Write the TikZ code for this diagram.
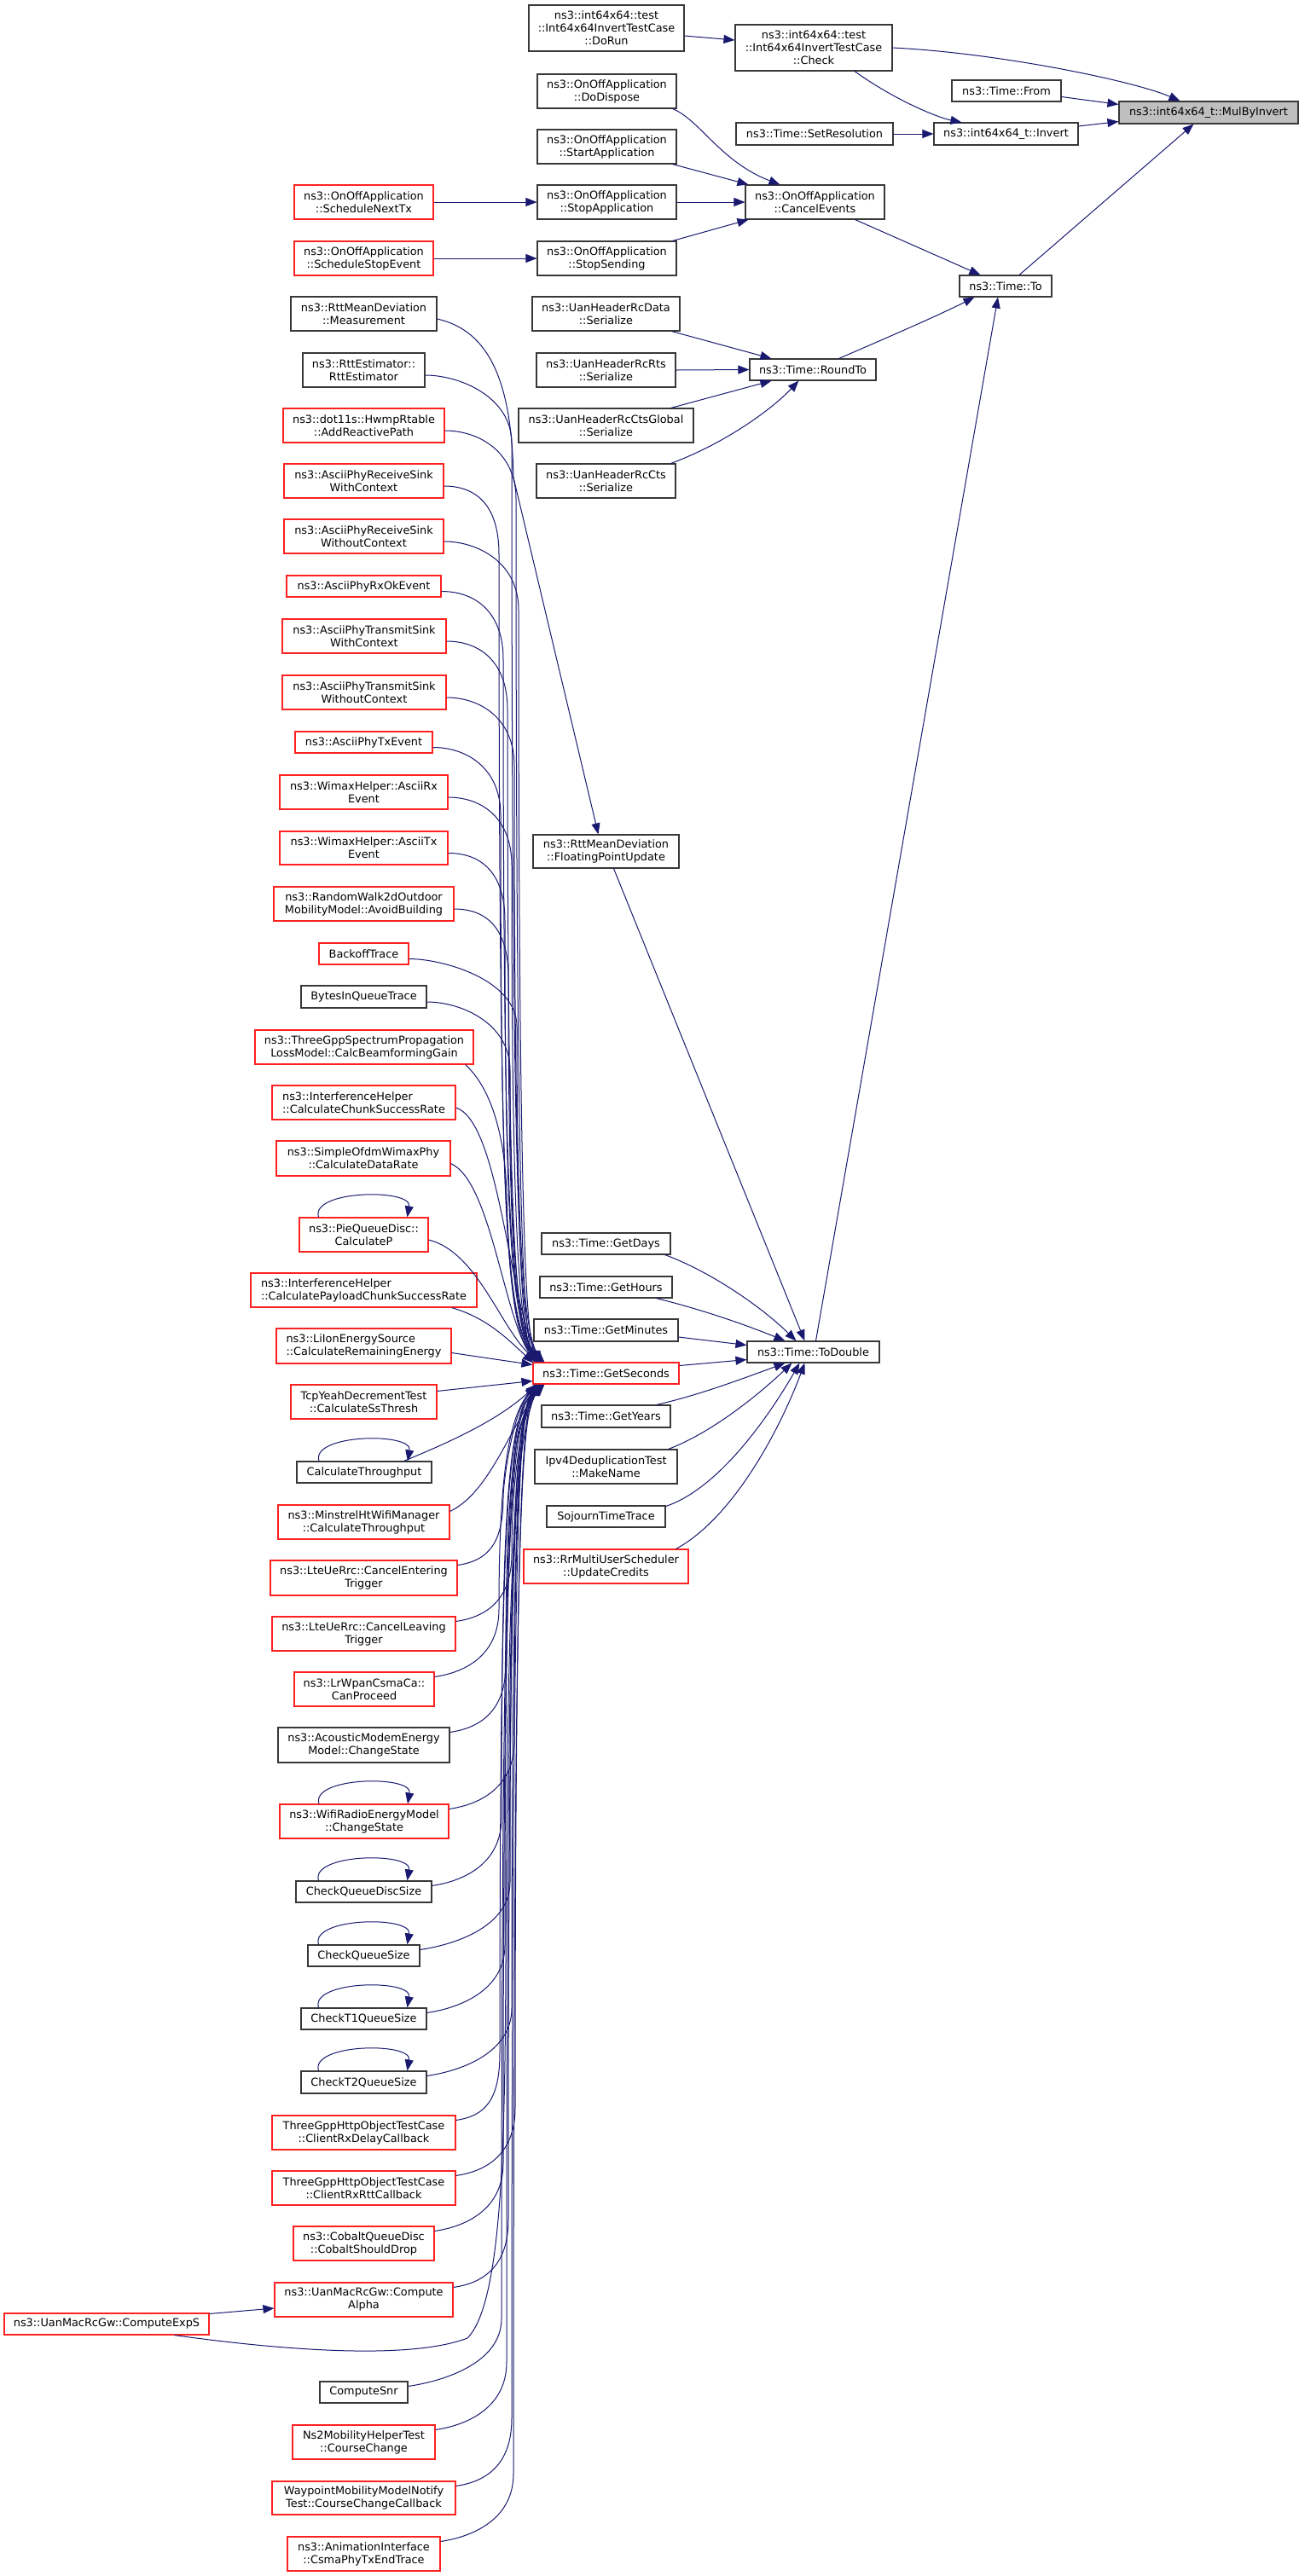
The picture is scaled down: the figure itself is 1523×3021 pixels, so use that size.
\documentclass[tikz,border=0pt]{standalone}
\usepackage{fontspec}
\setmainfont{DejaVu Sans}
\usetikzlibrary{arrows.meta,calc}
\definecolor{ed}{HTML}{191970}
\definecolor{rd}{HTML}{FF2020}
\newcommand\nf{\fontsize{12.9}{15}\selectfont}
\newcommand\mkn[7]{\node[#6, minimum width={((#4)-(#2))*1bp}, minimum height={((#5)-(#3))*1bp}] (#1) at ({((#2)+(#4))/2},{((#3)+(#5))/2}) {#7};}
\newcommand\tedge[4]{\draw[e] ($(#1.east)+(0,6)$) .. controls +(40,0) and (#2,{#3+25}) .. (#2,{#3+80}) .. controls (#2,1470) and ({#2+10},1560) .. ($(gs.north west)+(#4,0)$);}
\newcommand\bedge[4]{\draw[e] ($(#1.north east)+(0,6)$) .. controls +(35,-5) and (#2,{#3-25}) .. (#2,{#3-80}) .. controls (#2,1740) and ({#2+10},1660) .. ($(gs.south west)+(#4,0)$);}
\newcommand\lpp[1]{\draw[e] ($(#1.north)+(-53,0)$) .. controls +(-10,-32) and +(6,-34) .. ($(#1.north)+(51,0)$);}
\begin{document}
\begin{tikzpicture}[x=1bp,y=-1bp,
  box/.style={draw=black!78, line width=1.1bp, fill=white, inner sep=1bp, align=center, font=\nf},
  rbox/.style={box, draw=rd},
  lbox/.style={rbox, align=left},
  gbox/.style={box, fill=black!25},
  e/.style={draw=ed, line width=1bp, -{Triangle[length=13bp,width=10bp]}}]
\fill[white] (0,0) rectangle (1523,3021);
\useasboundingbox (0,0) rectangle (1523,3021);
% column 5 / 4 / 3
\mkn{mul}{1312}{119}{1522}{145}{gbox}{ns3::int64x64\_t::MulByInvert}
\mkn{from}{1116}{94}{1244}{119}{box}{ns3::Time::From}
\mkn{invert}{1095}{144}{1264}{170}{box}{ns3::int64x64\_t::Invert}
\mkn{to}{1125}{323}{1233}{348}{box}{ns3::Time::To}
\mkn{check}{862}{29}{1046}{83}{box}{ns3::int64x64::test\\::Int64x64InvertTestCase\\::Check}
\mkn{setres}{863}{144}{1047}{170}{box}{ns3::Time::SetResolution}
\mkn{cancel}{874}{217}{1037}{257}{box}{ns3::OnOffApplication\\::CancelEvents}
\mkn{roundto}{879}{421}{1027}{446}{box}{ns3::Time::RoundTo}
\mkn{todouble}{876}{1573}{1031}{1598}{box}{ns3::Time::ToDouble}
% column 2
\mkn{dorun}{620}{6}{802}{60}{box}{ns3::int64x64::test\\::Int64x64InvertTestCase\\::DoRun}
\mkn{dodispose}{630}{87}{793}{127}{box}{ns3::OnOffApplication\\::DoDispose}
\mkn{startapp}{630}{152}{793}{192}{box}{ns3::OnOffApplication\\::StartApplication}
\mkn{stopapp}{630}{217}{793}{257}{box}{ns3::OnOffApplication\\::StopApplication}
\mkn{stopsend}{630}{283}{793}{323}{box}{ns3::OnOffApplication\\::StopSending}
\mkn{rcdata}{624}{348}{797}{388}{box}{ns3::UanHeaderRcData\\::Serialize}
\mkn{rcrts}{629}{414}{792}{454}{box}{ns3::UanHeaderRcRts\\::Serialize}
\mkn{ctsglobal}{608}{479}{813}{519}{box}{ns3::UanHeaderRcCtsGlobal\\::Serialize}
\mkn{rccts}{629}{544}{792}{584}{box}{ns3::UanHeaderRcCts\\::Serialize}
\mkn{fpu}{625}{979}{796}{1018}{box}{ns3::RttMeanDeviation\\::FloatingPointUpdate}
\mkn{getdays}{635}{1446}{786}{1471}{box}{ns3::Time::GetDays}
\mkn{gethours}{633}{1497}{788}{1522}{box}{ns3::Time::GetHours}
\mkn{getminutes}{626}{1547}{795}{1573}{box}{ns3::Time::GetMinutes}
\mkn{gs}{625}{1598}{796}{1623}{rbox}{ns3::Time::GetSeconds}
\mkn{getyears}{635}{1648}{786}{1674}{box}{ns3::Time::GetYears}
\mkn{makename}{627}{1700}{794}{1740}{box}{Ipv4DeduplicationTest\\::MakeName}
\mkn{sojourn}{641}{1766}{780}{1791}{box}{SojournTimeTrace}
\mkn{updcred}{614}{1817}{807}{1857}{rbox}{ns3::RrMultiUserScheduler\\::UpdateCredits}
% column 1
\mkn{schednext}{345}{217}{508}{257}{rbox}{ns3::OnOffApplication\\::ScheduleNextTx}
\mkn{schedstop}{345}{283}{508}{323}{rbox}{ns3::OnOffApplication\\::ScheduleStopEvent}
\mkn{measure}{341}{348}{512}{388}{box}{ns3::RttMeanDeviation\\::Measurement}
\mkn{rttest}{355}{414}{498}{454}{box}{ns3::RttEstimator::\\RttEstimator}
\mkn{hwmp}{332}{479}{521}{519}{rbox}{ns3::dot11s::HwmpRtable\\::AddReactivePath}
\mkn{arswc}{333}{544}{520}{584}{rbox}{ns3::AsciiPhyReceiveSink\\WithContext}
\mkn{arswoc}{333}{609}{520}{649}{rbox}{ns3::AsciiPhyReceiveSink\\WithoutContext}
\mkn{arxok}{336}{675}{517}{700}{rbox}{ns3::AsciiPhyRxOkEvent}
\mkn{atswc}{331}{726}{523}{766}{rbox}{ns3::AsciiPhyTransmitSink\\WithContext}
\mkn{atswoc}{331}{792}{523}{832}{rbox}{ns3::AsciiPhyTransmitSink\\WithoutContext}
\mkn{atx}{346}{858}{507}{883}{rbox}{ns3::AsciiPhyTxEvent}
\mkn{wrx}{328}{909}{525}{949}{rbox}{ns3::WimaxHelper::AsciiRx\\Event}
\mkn{wtx}{328}{975}{525}{1014}{rbox}{ns3::WimaxHelper::AsciiTx\\Event}
\mkn{rw}{321}{1040}{532}{1080}{rbox}{ns3::RandomWalk2dOutdoor\\MobilityModel::AvoidBuilding}
\mkn{backoff}{374}{1106}{479}{1131}{rbox}{BackoffTrace}
\mkn{bytesq}{353}{1156}{500}{1182}{box}{BytesInQueueTrace}
\mkn{tgpp}{299}{1208}{555}{1248}{rbox}{ns3::ThreeGppSpectrumPropagation\\LossModel::CalcBeamformingGain}
\mkn{chunk}{319}{1273}{534}{1313}{lbox}{ns3::InterferenceHelper\\::CalculateChunkSuccessRate}
\mkn{ofdm}{324}{1338}{528}{1379}{rbox}{ns3::SimpleOfdmWimaxPhy\\::CalculateDataRate}
\mkn{pie}{351}{1428}{502}{1468}{rbox}{ns3::PieQueueDisc::\\CalculateP}
\mkn{payload}{294}{1493}{559}{1533}{lbox}{ns3::InterferenceHelper\\::CalculatePayloadChunkSuccessRate}
\mkn{liion}{324}{1558}{529}{1599}{lbox}{ns3::LiIonEnergySource\\::CalculateRemainingEnergy}
\mkn{tcpyeah}{341}{1624}{512}{1664}{rbox}{TcpYeahDecrementTest\\::CalculateSsThresh}
\mkn{calcthr}{348}{1714}{506}{1739}{box}{CalculateThroughput}
\mkn{minstrel}{326}{1765}{527}{1805}{rbox}{ns3::MinstrelHtWifiManager\\::CalculateThroughput}
\mkn{centering}{317}{1830}{536}{1871}{rbox}{ns3::LteUeRrc::CancelEntering\\Trigger}
\mkn{cleaving}{319}{1896}{534}{1936}{rbox}{ns3::LteUeRrc::CancelLeaving\\Trigger}
\mkn{lrwpan}{345}{1961}{509}{2001}{rbox}{ns3::LrWpanCsmaCa::\\CanProceed}
\mkn{acoustic}{326}{2026}{527}{2067}{box}{ns3::AcousticModemEnergy\\Model::ChangeState}
\mkn{wifiradio}{328}{2116}{526}{2156}{rbox}{ns3::WifiRadioEnergyModel\\::ChangeState}
\mkn{cqds}{347}{2206}{506}{2231}{box}{CheckQueueDiscSize}
\mkn{cqs}{361}{2281}{492}{2306}{box}{CheckQueueSize}
\mkn{ct1}{353}{2355}{500}{2380}{box}{CheckT1QueueSize}
\mkn{ct2}{353}{2429}{500}{2455}{box}{CheckT2QueueSize}
\mkn{rxdelay}{319}{2481}{534}{2521}{rbox}{ThreeGppHttpObjectTestCase\\::ClientRxDelayCallback}
\mkn{rxrtt}{319}{2546}{534}{2586}{rbox}{ThreeGppHttpObjectTestCase\\::ClientRxRttCallback}
\mkn{cobalt}{344}{2611}{509}{2651}{rbox}{ns3::CobaltQueueDisc\\::CobaltShouldDrop}
\mkn{alpha}{322}{2677}{531}{2717}{rbox}{ns3::UanMacRcGw::Compute\\Alpha}
\mkn{exps}{5}{2713}{245}{2738}{rbox}{ns3::UanMacRcGw::ComputeExpS}
\mkn{snr}{375}{2793}{478}{2818}{box}{ComputeSnr}
\mkn{ns2}{343}{2844}{510}{2884}{rbox}{Ns2MobilityHelperTest\\::CourseChange}
\mkn{waypoint}{319}{2910}{534}{2949}{rbox}{WaypointMobilityModelNotify\\Test::CourseChangeCallback}
\mkn{anim}{337}{2975}{516}{3015}{rbox}{ns3::AnimationInterface\\::CsmaPhyTxEndTrace}
% ---- upper edges
\draw[e] ($(dorun.east)+(0,9)$) -- ($(check.west)+(0,-9)$);
\draw[e] (check.east) .. controls (1170,62) and (1330,95) .. ($(mul.north west)+(72,0)$);
\draw[e] ($(check.south)+(48,0)$) .. controls (1050,118) and (1100,138) .. ($(invert.north west)+(33,0)$);
\draw[e] ($(from.east)+(0,7)$) -- ($(mul.north west)+(0,4)$);
\draw[e] ($(invert.east)+(0,-9)$) -- ($(mul.south west)+(0,-3)$);
\draw[e] (setres.east) -- (invert.west);
\draw[e] ($(dodispose.south east)+(-5,0)$) .. controls (820,140) and (845,190) .. ($(cancel.north west)+(41,0)$);
\draw[e] ($(startapp.south east)+(-5,0)$) -- ($(cancel.north west)+(4,0)$);
\draw[e] (stopapp.east) -- (cancel.west);
\draw[e] ($(stopsend.north east)+(-5,0)$) -- ($(cancel.south west)+(4,0)$);
\draw[e] (schednext.east) -- (stopapp.west);
\draw[e] (schedstop.east) -- (stopsend.west);
\draw[e] ($(cancel.south east)+(-35,0)$) -- ($(to.north west)+(25,0)$);
\draw[e] ($(to.north)+(16,0)$) -- ($(mul.south west)+(88,0)$);
\draw[e] ($(rcdata.south east)+(-10,0)$) -- ($(roundto.north west)+(26,0)$);
\draw[e] (rcrts.east) -- (roundto.west);
\draw[e] ($(ctsglobal.north east)+(-27,0)$) -- ($(roundto.south west)+(26,0)$);
\draw[e] ($(rccts.north east)+(-6,0)$) .. controls (850,520) and (905,480) .. ($(roundto.south west)+(58,0)$);
\draw[e] ($(roundto.north east)+(-44,0)$) .. controls (1040,396) and (1100,370) .. ($(to.south west)+(18,0)$);
\draw[e] ($(todouble.north)+(3,0)$) -- ($(to.south)+(-9,0)$);
% ---- into ToDouble
\draw[e] ($(fpu.south)+(9,0)$) -- ($(todouble.north west)+(68,0)$);
\draw[e] ($(getdays.south east)+(-7,0)$) .. controls (830,1490) and (890,1530) .. ($(todouble.north west)+(58,0)$);
\draw[e] ($(gethours.south east)+(-19,0)$) .. controls (820,1535) and (870,1552) .. ($(todouble.north west)+(45,0)$);
\draw[e] ($(getminutes.east)+(0,8)$) -- ($(todouble.west)+(0,-8)$);
\draw[e] ($(gs.east)+(0,-9)$) -- ($(todouble.west)+(0,9)$);
\draw[e] ($(getyears.north east)+(-17,0)$) .. controls (820,1636) and (870,1617) .. ($(todouble.south west)+(45,0)$);
\draw[e] ($(makename.north east)+(-11,0)$) .. controls (835,1680) and (890,1635) .. ($(todouble.south west)+(53,0)$);
\draw[e] ($(sojourn.east)+(0,-12)$) .. controls (845,1745) and (905,1655) .. ($(todouble.south west)+(62,0)$);
\draw[e] ($(updcred.north east)+(-15,0)$) .. controls (860,1780) and (915,1675) .. ($(todouble.south west)+(68,0)$);
% ---- Measurement -> FloatingPointUpdate
\draw[e] ($(measure.east)+(0,6)$) .. controls (575,388) and (600,450) .. (602,560) -- ($(fpu.north)+(-9,0)$);
% ---- into GetSeconds from above
\tedge{rttest}{600}{440}{12}
\tedge{hwmp}{605}{505}{3}
\tedge{arswc}{585}{570}{9}
\tedge{arswoc}{608}{635}{5}
\tedge{arxok}{590}{693}{14}
\tedge{atswc}{595}{752}{7}
\tedge{atswoc}{603}{818}{2}
\tedge{atx}{587}{876}{11}
\tedge{wrx}{600}{935}{6}
\tedge{wtx}{592}{1000}{13}
\tedge{rw}{596}{1066}{4}
\tedge{backoff}{606}{1124}{10}
\tedge{bytesq}{598}{1175}{8}
\draw[e] ($(tgpp.south east)+(-10,0)$) .. controls (575,1275) and (592,1330) .. (594,1400) .. controls (596,1490) and (605,1560) .. ($(gs.north west)+(5,0)$);
\draw[e] ($(chunk.east)+(0,6)$) .. controls (585,1315) and (596,1520) .. ($(gs.north west)+(9,0)$);
\draw[e] ($(ofdm.east)+(0,6)$) .. controls (575,1385) and (590,1540) .. ($(gs.north west)+(3,0)$);
\draw[e] ($(pie.east)+(0,6)$) .. controls (560,1468) and (588,1560) .. ($(gs.north west)+(7,0)$);
\draw[e] ($(payload.south east)+(-30,0)$) .. controls (570,1545) and (595,1570) .. ($(gs.north west)+(1,1)$);
\draw[e] ($(liion.east)+(0,8)$) -- ($(gs.west)+(0,-10)$);
% ---- into GetSeconds from below
\draw[e] ($(tcpyeah.north east)+(0,8)$) -- ($(gs.west)+(0,9)$);
\draw[e] ($(calcthr.north east)+(-33,0)$) .. controls (530,1690) and (585,1665) .. ($(gs.south west)+(5,0)$);
\draw[e] ($(minstrel.north east)+(0,8)$) .. controls (570,1752) and (592,1690) .. ($(gs.south west)+(9,0)$);
\bedge{centering}{590}{1836}{3}
\bedge{cleaving}{600}{1902}{12}
\bedge{lrwpan}{585}{1967}{6}
\bedge{acoustic}{593}{2032}{14}
\bedge{wifiradio}{603}{2122}{2}
\bedge{cqds}{588}{2212}{10}
\bedge{cqs}{598}{2287}{7}
\bedge{ct1}{592}{2361}{13}
\bedge{ct2}{600}{2435}{4}
\bedge{rxdelay}{586}{2487}{11}
\bedge{rxrtt}{604}{2552}{5}
\bedge{cobalt}{590}{2617}{8}
\bedge{alpha}{596}{2683}{12}
\bedge{snr}{588}{2799}{6}
\bedge{ns2}{594}{2850}{9}
\bedge{waypoint}{600}{2916}{3}
\bedge{anim}{602}{2981}{10}
\draw[e] ($(exps.north east)+(0,1)$) -- ($(alpha.west)+(0,10)$);
\draw[e] ($(exps.south east)+(-41,0)$) .. controls (330,2756) and (480,2768) .. (548,2742) .. controls (590,2700) and (592,2500) .. (593,2300) .. controls (595,1900) and (600,1700) .. ($(gs.south west)+(8,0)$);
% ---- self loops
\lpp{pie}
\lpp{calcthr}
\lpp{wifiradio}
\lpp{cqds}
\lpp{cqs}
\lpp{ct1}
\lpp{ct2}
\end{tikzpicture}
\end{document}
